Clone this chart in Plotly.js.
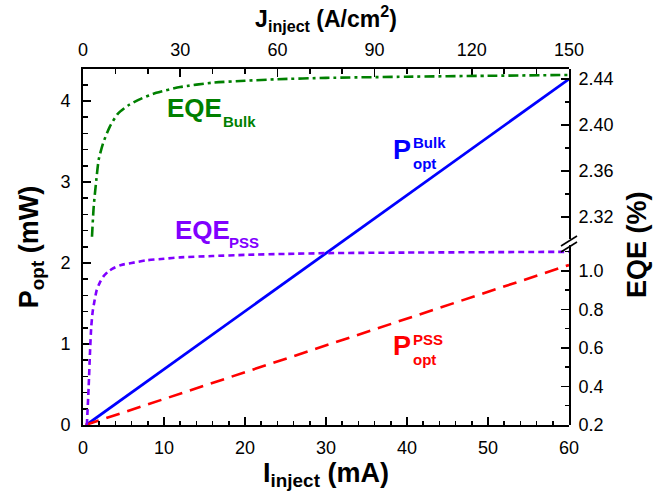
<!DOCTYPE html>
<html>
<head>
<meta charset="utf-8">
<script src="https://cdn.plot.ly/plotly-3.0.1.min.js"></script>
<style>html,body{margin:0;padding:0;background:#fff;}#plot{width:669px;height:496px;}</style>
</head>
<body>
<div id="plot"></div>
<script>
// ---- data ----
// optical power vs injection current (left axis, mW)
const I_Pbulk = [0.4, 30.5, 60];
const P_bulk  = [0.0, 2.16, 4.27];
const I_Ppss  = [0.3, 30.5, 60];
const P_pss   = [0.0, 1.00, 1.975];
// EQE of bulk (upper right axis segment, %)
const I_EQEbulk = [1.11, 1.32, 1.64, 1.94, 2.47, 3.30, 4.32, 5.56, 7.20, 9.05, 12, 16, 20, 24, 30, 40, 50, 60];
const EQE_bulk  = [2.303, 2.329, 2.352, 2.370, 2.384, 2.3985, 2.410, 2.417, 2.423, 2.428, 2.433, 2.4368, 2.4385, 2.4398, 2.441, 2.442, 2.4428, 2.4435];
// EQE of PSS (lower right axis segment, %)
const I_EQEpss = [0.47, 0.5, 0.7, 0.86, 1.02, 1.2, 1.44, 1.69, 2.06, 2.5, 3.09, 3.8, 4.73, 6.0, 7.86, 10, 12, 16, 20, 25, 30, 40, 50, 60];
const EQE_pss  = [0.2, 0.22, 0.40, 0.574, 0.711, 0.79, 0.849, 0.90, 0.938, 0.97, 0.996, 1.015, 1.031, 1.041, 1.055, 1.063, 1.070, 1.077, 1.083, 1.088, 1.092, 1.095, 1.097, 1.099];
// current density scale (top axis, A/cm^2) spanning the same current range
const J_range = [0, 150];
// axis ticks
const xTicks  = [0, 10, 20, 30, 40, 50, 60];
const x2Ticks = [0, 30, 60, 90, 120, 150];
const yTicks  = [0, 1, 2, 3, 4];
const y2Ticks = [0.2, 0.4, 0.6, 0.8, 1.0];
const y2Labels = ['0.2', '0.4', '0.6', '0.8', '1.0'];
const y3Ticks = [2.32, 2.36, 2.40, 2.44];
const y3Labels = ['2.32', '2.36', '2.40', '2.44'];

const FONT = 'Liberation Sans, Arial, sans-serif';
const GREEN = '#008000', PURPLE = '#8000ff', BLUE = '#0000ff', RED = '#ff0000';

const traces = [
  {x: I_EQEbulk, y: EQE_bulk, xaxis: 'x', yaxis: 'y3', mode: 'lines',
   line: {color: GREEN, width: 2.6, dash: '10px,4px,3px,4px', shape: 'spline', smoothing: 0.6}},
  {x: I_EQEpss, y: EQE_pss, xaxis: 'x', yaxis: 'y2', mode: 'lines',
   line: {color: PURPLE, width: 2.6, dash: '6px,4px', shape: 'spline', smoothing: 0.6}},
  {x: I_Pbulk, y: P_bulk, xaxis: 'x', yaxis: 'y', mode: 'lines',
   line: {color: BLUE, width: 2.8}},
  {x: I_Ppss, y: P_pss, xaxis: 'x', yaxis: 'y', mode: 'lines',
   line: {color: RED, width: 2.6, dash: '14px,8px'}},
  // invisible trace so the top (J) axis is drawn
  {x: J_range, y: [null, null], xaxis: 'x2', yaxis: 'y', mode: 'lines', hoverinfo: 'skip',
   line: {color: 'rgba(0,0,0,0)', width: 0}}
];

const tickFont = {family: FONT, size: 18, color: '#000'};
const titleFont = {family: FONT, size: 27, color: '#000', weight: 'bold'};
const common = {showline: true, linecolor: '#000', linewidth: 2, ticks: 'inside', ticklen: 8, tickwidth: 1.5,
  tickcolor: '#000', showgrid: false, zeroline: false, tickfont: tickFont};
const minorC = {ticks: 'inside', ticklen: 4.5, tickwidth: 1.5, tickcolor: '#000', showgrid: false};

// pixel helper for paper placement of labels
const L = 83, T = 69, W = 486, H = 356;
const px = v => (v - L) / W, py = v => (425 - v) / H;

const ann = (text, x, y, size, color, opts) => Object.assign({
  xref: 'paper', yref: 'paper', x: px(x), y: py(y), xanchor: 'left', yanchor: 'middle',
  text: text, showarrow: false, font: {family: FONT, size: size, color: color, weight: 'bold'}}, opts || {});

const layout = {
  width: 669, height: 496,
  margin: {l: 83, r: 100, t: 69, b: 71, pad: 0},
  paper_bgcolor: '#fff', plot_bgcolor: 'rgba(0,0,0,0)',
  showlegend: false,
  xaxis: Object.assign({}, common, {range: [0, 60], tickvals: xTicks, minor: Object.assign({dtick: 2}, minorC),
    anchor: 'y', ticklabelstandoff: 5,
    title: {text: 'I<sub>inject</sub> (mA)', font: titleFont, standoff: 6}}),
  xaxis2: Object.assign({}, common, {range: J_range, tickvals: x2Ticks, minor: Object.assign({dtick: 10}, minorC),
    overlaying: 'x', side: 'top', anchor: 'y', ticklabelstandoff: 4,
    title: {text: 'J<sub>inject</sub> (A/cm<sup>2</sup>)', font: {family: FONT, size: 23, color: '#000', weight: 'bold'}, standoff: 6}}),
  yaxis: Object.assign({}, common, {range: [0, 4.395], tickvals: yTicks, minor: Object.assign({dtick: 0.2}, minorC),
    anchor: 'x', domain: [0, 1], ticklabelstandoff: 7,
    title: {text: 'P<sub>opt</sub> (mW)', font: titleFont, standoff: 14}}),
  yaxis2: Object.assign({}, common, {range: [0.2, 1.135], tickvals: y2Ticks, ticktext: y2Labels,
    minor: Object.assign({dtick: 0.1}, minorC), anchor: 'x', side: 'right', domain: [0, 0.506], ticklabelstandoff: 4}),
  yaxis3: Object.assign({}, common, {range: [2.3009, 2.4487], tickvals: y3Ticks, ticktext: y3Labels,
    minor: Object.assign({dtick: 0.02}, minorC), anchor: 'x', side: 'right', domain: [0.522, 1], ticklabelstandoff: 4}),
  annotations: [
    ann('EQE', 165, 108, 26, GREEN),
    ann('Bulk', 221, 121, 15, GREEN),
    ann('EQE', 173, 230, 26, PURPLE),
    ann('PSS', 227, 242, 15, PURPLE),
    ann('P', 391, 150, 27, BLUE),
    ann('Bulk', 411, 142, 15, BLUE),
    ann('opt', 411, 163, 15, BLUE),
    ann('P', 391, 346, 27, RED),
    ann('PSS', 411, 339, 15, RED),
    ann('opt', 411, 359, 15, RED),
    {xref: 'paper', yref: 'paper', x: px(637), y: py(245), xanchor: 'center', yanchor: 'middle',
     text: 'EQE (%)', textangle: -90, showarrow: false, font: titleFont}
  ],
  shapes: [
    {type: 'line', xref: 'paper', yref: 'paper', x0: px(561), y0: py(246), x1: px(577), y1: py(236), line: {color: '#000', width: 1.6}},
    {type: 'line', xref: 'paper', yref: 'paper', x0: px(561), y0: py(252), x1: px(577), y1: py(242), line: {color: '#000', width: 1.6}}
  ]
};

Plotly.newPlot('plot', traces, layout, {displayModeBar: false, staticPlot: true});
</script>
</body>
</html>
